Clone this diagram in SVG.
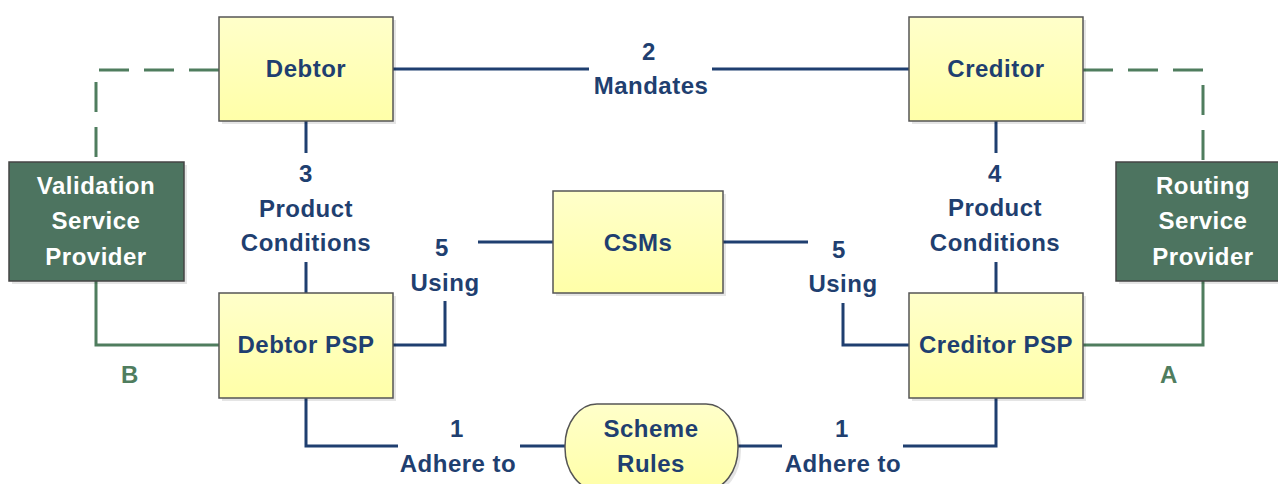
<svg xmlns="http://www.w3.org/2000/svg" width="1278" height="484" viewBox="0 0 1278 484">
<style>
text{font-family:"Liberation Sans",Arial,sans-serif;font-weight:bold;font-size:24px;letter-spacing:0.5px;text-anchor:middle}
.lbl{fill:#1F3F70}
.wt{fill:#FFFFFF}
.gl{fill:#4F7D5E}
.yb{fill:url(#yg);stroke:#555;stroke-width:1.5}
.gb{fill:#4D7460;stroke:#444;stroke-width:1.5}
.sh{fill:#000;opacity:0.1}
.cb{fill:none;stroke:#1F3F70;stroke-width:3}
.cg{fill:none;stroke:#4F7D5E;stroke-width:3}
.cd{fill:none;stroke:#4F7D5E;stroke-width:3;stroke-dasharray:30 15}
</style>
<defs>
<linearGradient id="yg" x1="0" y1="0" x2="0" y2="1">
<stop offset="0" stop-color="#FFFFCA"/>
<stop offset="1" stop-color="#FFFFA8"/>
</linearGradient>
</defs>
<rect width="1278" height="484" fill="#FFFFFF"/>
<g id="connectors">
<path class="cb" d="M393 69 H589 M712 69 H909"/>
<path class="cb" d="M306 121 V153 M306 262 V293"/>
<path class="cb" d="M996 121 V153 M996 262 V293"/>
<path class="cd" d="M219 70 H96 V162"/>
<path class="cd" d="M1083 70 H1203 V162"/>
<path class="cg" d="M96 281 V345 H219"/>
<path class="cg" d="M1083 345 H1203 V281"/>
<path class="cb" d="M393 345 H445 V301"/>
<path class="cb" d="M553 242 H478 M723 242 H808"/>
<path class="cb" d="M843 303 V345 H909"/>
<path class="cb" d="M306 398 V446 H398 M520 446 H565 M738 446 H782 M903 446 H996 V398"/>
<text class="lbl" x="649" y="60">2</text>
<text class="lbl" x="651" y="94">Mandates</text>
<text class="lbl" x="306" y="182">3</text>
<text class="lbl" x="306" y="217">Product</text>
<text class="lbl" x="306" y="251">Conditions</text>
<text class="lbl" x="995" y="182">4</text>
<text class="lbl" x="995" y="216">Product</text>
<text class="lbl" x="995" y="251">Conditions</text>
<text class="lbl" x="442" y="256">5</text>
<text class="lbl" x="445" y="291">Using</text>
<text class="lbl" x="839" y="258">5</text>
<text class="lbl" x="843" y="292">Using</text>
<text class="lbl" x="457" y="437">1</text>
<text class="lbl" x="458" y="472">Adhere to</text>
<text class="lbl" x="842" y="437">1</text>
<text class="lbl" x="843" y="472">Adhere to</text>
<text class="gl" x="130" y="383">B</text>
<text class="gl" x="1169" y="383">A</text>
</g>
<g id="debtor">
<rect class="sh" x="222" y="20" width="174" height="104"/>
<rect class="yb" x="219" y="17" width="174" height="104"/>
<text class="lbl" x="306" y="77">Debtor</text>
</g>
<g id="creditor">
<rect class="sh" x="912" y="20" width="174" height="104"/>
<rect class="yb" x="909" y="17" width="174" height="104"/>
<text class="lbl" x="996" y="77">Creditor</text>
</g>
<g id="validation">
<rect class="sh" x="12" y="165" width="175" height="119"/>
<rect class="gb" x="9" y="162" width="175" height="119"/>
<text class="wt" x="96" y="194">Validation</text>
<text class="wt" x="96" y="229">Service</text>
<text class="wt" x="96" y="265">Provider</text>
</g>
<g id="routing">
<rect class="sh" x="1119" y="165" width="175" height="119"/>
<rect class="gb" x="1116" y="162" width="175" height="119"/>
<text class="wt" x="1203" y="194">Routing</text>
<text class="wt" x="1203" y="229">Service</text>
<text class="wt" x="1203" y="265">Provider</text>
</g>
<g id="csms">
<rect class="sh" x="556" y="194" width="170" height="102"/>
<rect class="yb" x="553" y="191" width="170" height="102"/>
<text class="lbl" x="638" y="251">CSMs</text>
</g>
<g id="debtor-psp">
<rect class="sh" x="222" y="296" width="174" height="105"/>
<rect class="yb" x="219" y="293" width="174" height="105"/>
<text class="lbl" x="306" y="353">Debtor PSP</text>
</g>
<g id="creditor-psp">
<rect class="sh" x="912" y="296" width="174" height="105"/>
<rect class="yb" x="909" y="293" width="174" height="105"/>
<text class="lbl" x="996" y="353">Creditor PSP</text>
</g>
<g id="scheme-rules">
<rect class="sh" x="568" y="407" width="173" height="86" rx="32" ry="42"/>
<rect class="yb" x="565" y="404" width="173" height="86" rx="32" ry="42"/>
<text class="lbl" x="651" y="437">Scheme</text>
<text class="lbl" x="651" y="472">Rules</text>
</g>
</svg>
